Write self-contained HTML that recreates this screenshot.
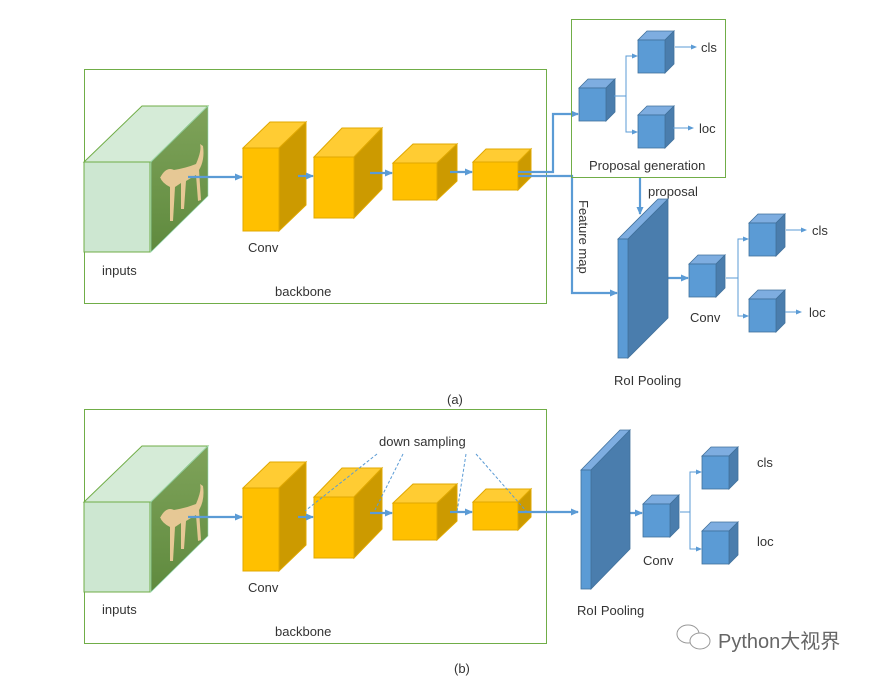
<!DOCTYPE html>
<html><head><meta charset="utf-8"><style>
html,body{margin:0;padding:0;background:#fff;}
svg{display:block;}
text{font-family:"Liberation Sans","Noto Sans CJK SC",sans-serif;fill:#333;font-size:13px;}
</style></head><body>
<svg width="886" height="679" viewBox="0 0 886 679" xmlns="http://www.w3.org/2000/svg">
<defs>
<marker id="ah" markerWidth="8" markerHeight="8" refX="7" refY="4" orient="auto" markerUnits="userSpaceOnUse"><path d="M0,0.5 L8,4 L0,7.5 z" fill="#5B9BD5"/></marker>
<marker id="as" markerWidth="6" markerHeight="6" refX="5" refY="3" orient="auto" markerUnits="userSpaceOnUse"><path d="M0,0.5 L6,3 L0,5.5 z" fill="#5B9BD5"/></marker>
<linearGradient id="dog" x1="0" y1="0" x2="0" y2="1"><stop offset="0" stop-color="#7fa35a"/><stop offset="1" stop-color="#5f8a3e"/></linearGradient>
<g id="bb">
  <!-- input cube -->
  <polygon points="84,162 142,106 208,106 151,162" fill="#D5EBD7" stroke="#70AD47" stroke-width="1"/>
  <rect x="84" y="162" width="66" height="90" fill="#CDE7D1" stroke="#70AD47" stroke-width="1"/>
  <polygon points="151,162 208,106 208,196 151,252" fill="url(#dog)" stroke="#9db" stroke-width="0.6"/>
  <path d="M160,178 q6,-12 14,-8 q12,-2 22,-6 q6,-14 4,-20 l3,2 q2,14 -4,24 l2,30 l-3,1 l-2,-26 l-10,6 l-2,28 l-3,0 l0,-26 l-6,4 l-2,34 l-3,0 l0,-34 q-8,-4 -10,-10 z" fill="#E6C895"/>
  <!-- conv1 -->
  <polygon points="243,148 270,122 306,122 279,148" fill="#FFCC33" stroke="#E0A800" stroke-width="1"/>
  <polygon points="279,148 306,122 306,205 279,231" fill="#CC9A00" stroke="#E0A800" stroke-width="1"/>
  <rect x="243" y="148" width="36" height="83" fill="#FFC000" stroke="#E0A800" stroke-width="1"/>
  <!-- conv2 -->
  <polygon points="314,157 342,128 382,128 354,157" fill="#FFCC33" stroke="#E0A800" stroke-width="1"/>
  <polygon points="354,157 382,128 382,189 354,218" fill="#CC9A00" stroke="#E0A800" stroke-width="1"/>
  <rect x="314" y="157" width="40" height="61" fill="#FFC000" stroke="#E0A800" stroke-width="1"/>
  <!-- conv3 -->
  <polygon points="393,163 413,144 457,144 437,163" fill="#FFCC33" stroke="#E0A800" stroke-width="1"/>
  <polygon points="437,163 457,144 457,181 437,200" fill="#CC9A00" stroke="#E0A800" stroke-width="1"/>
  <rect x="393" y="163" width="44" height="37" fill="#FFC000" stroke="#E0A800" stroke-width="1"/>
  <!-- conv4 -->
  <polygon points="473,162 486,149 531,149 518,162" fill="#FFCC33" stroke="#E0A800" stroke-width="1"/>
  <polygon points="518,162 531,149 531,177 518,190" fill="#CC9A00" stroke="#E0A800" stroke-width="1"/>
  <rect x="473" y="162" width="45" height="28" fill="#FFC000" stroke="#E0A800" stroke-width="1"/>
</g>
<g id="bc">
  <polygon points="0,0 9,-9 36,-9 27,0" fill="#7EADE0" stroke="#41719C" stroke-width="0.8"/>
  <polygon points="27,0 36,-9 36,24 27,33" fill="#4A7DAD" stroke="#41719C" stroke-width="0.8"/>
  <rect x="0" y="0" width="27" height="33" fill="#5B9BD5" stroke="#41719C" stroke-width="0.8"/>
</g>
</defs>

<!-- ============ (a) ============ -->
<rect x="84.5" y="69.5" width="462" height="234" fill="none" stroke="#70AD47" stroke-width="1"/>
<use href="#bb"/>
<g stroke="#5B9BD5" stroke-width="2.2" fill="none">
<line x1="188" y1="177" x2="242" y2="177" marker-end="url(#ah)"/>
<line x1="298" y1="176" x2="313" y2="176" marker-end="url(#ah)"/>
<line x1="370" y1="173" x2="392" y2="173" marker-end="url(#ah)"/>
<line x1="450" y1="172" x2="472" y2="172" marker-end="url(#ah)"/>
<polyline points="518,172 553,172 553,114 578,114" marker-end="url(#ah)"/>
<polyline points="518,176 572,176 572,293 617,293" marker-end="url(#ah)"/>
<line x1="640" y1="178" x2="640" y2="214" marker-end="url(#ah)"/>
<line x1="668" y1="278" x2="688" y2="278" marker-end="url(#ah)"/>
</g>
<text x="102" y="275">inputs</text>
<text x="248" y="252">Conv</text>
<text x="275" y="296">backbone</text>

<rect x="571.5" y="19.5" width="154" height="158" fill="none" stroke="#70AD47" stroke-width="1"/>
<use href="#bc" transform="translate(579,88)"/>
<use href="#bc" transform="translate(638,40)"/>
<use href="#bc" transform="translate(638,115)"/>
<g stroke="#5B9BD5" stroke-width="1" fill="none">
<polyline points="614,96 626,96 626,56 637,56" marker-end="url(#as)"/>
<polyline points="626,96 626,132 637,132" marker-end="url(#as)"/>
<line x1="675" y1="47" x2="696" y2="47" marker-end="url(#as)"/>
<line x1="673" y1="128" x2="693" y2="128" marker-end="url(#as)"/>
</g>
<text x="701" y="52">cls</text>
<text x="699" y="133">loc</text>
<text x="589" y="170">Proposal generation</text>
<text x="648" y="196">proposal</text>
<text transform="translate(579,200) rotate(90)">Feature map</text>

<!-- RoI slab a -->
<polygon points="618,239 658,199 668,199 628,239" fill="#7EADE0" stroke="#41719C" stroke-width="0.8"/>
<polygon points="628,239 668,199 668,318 628,358" fill="#4A7DAD" stroke="#41719C" stroke-width="0.8"/>
<rect x="618" y="239" width="10" height="119" fill="#5B9BD5" stroke="#41719C" stroke-width="0.8"/>
<use href="#bc" transform="translate(689,264)"/>
<use href="#bc" transform="translate(749,223)"/>
<use href="#bc" transform="translate(749,299)"/>
<g stroke="#5B9BD5" stroke-width="1" fill="none">
<polyline points="726,278 738,278 738,239 748,239" marker-end="url(#as)"/>
<polyline points="738,278 738,316 748,316" marker-end="url(#as)"/>
<line x1="786" y1="230" x2="806" y2="230" marker-end="url(#as)"/>
<line x1="785" y1="312" x2="801" y2="312" marker-end="url(#as)"/>
</g>
<text x="812" y="235">cls</text>
<text x="809" y="317">loc</text>
<text x="690" y="322">Conv</text>
<text x="614" y="385">RoI Pooling</text>
<text x="447" y="404">(a)</text>

<!-- ============ (b) ============ -->
<rect x="84.5" y="409.5" width="462" height="234" fill="none" stroke="#70AD47" stroke-width="1"/>
<use href="#bb" transform="translate(0,340)"/>
<g stroke="#5B9BD5" stroke-width="2.2" fill="none">
<line x1="188" y1="517" x2="242" y2="517" marker-end="url(#ah)"/>
<line x1="298" y1="517" x2="313" y2="517" marker-end="url(#ah)"/>
<line x1="370" y1="513" x2="392" y2="513" marker-end="url(#ah)"/>
<line x1="450" y1="512" x2="472" y2="512" marker-end="url(#ah)"/>
<line x1="518" y1="512" x2="578" y2="512" marker-end="url(#ah)"/>
<line x1="619" y1="513" x2="642" y2="513" marker-end="url(#ah)"/>
</g>
<g stroke="#5B9BD5" stroke-width="1" stroke-dasharray="3,2" fill="none">
<line x1="377" y1="454" x2="305" y2="511"/>
<line x1="403" y1="454" x2="375" y2="510"/>
<line x1="466" y1="454" x2="457" y2="512"/>
<line x1="476" y1="454" x2="527" y2="512"/>
</g>
<text x="379" y="446">down sampling</text>
<text x="102" y="614">inputs</text>
<text x="248" y="592">Conv</text>
<text x="275" y="636">backbone</text>

<polygon points="581,470 620,430 630,430 591,470" fill="#7EADE0" stroke="#41719C" stroke-width="0.8"/>
<polygon points="591,470 630,430 630,549 591,589" fill="#4A7DAD" stroke="#41719C" stroke-width="0.8"/>
<rect x="581" y="470" width="10" height="119" fill="#5B9BD5" stroke="#41719C" stroke-width="0.8"/>
<use href="#bc" transform="translate(643,504)"/>
<use href="#bc" transform="translate(702,456)"/>
<use href="#bc" transform="translate(702,531)"/>
<g stroke="#5B9BD5" stroke-width="1" fill="none">
<polyline points="680,512 690,512 690,472 701,472" marker-end="url(#as)"/>
<polyline points="690,512 690,549 701,549" marker-end="url(#as)"/>
</g>
<text x="757" y="467">cls</text>
<text x="757" y="546">loc</text>
<text x="643" y="565">Conv</text>
<text x="577" y="615">RoI Pooling</text>
<text x="454" y="673">(b)</text>

<!-- watermark -->
<g stroke="#999" stroke-width="1" fill="#fff">
<ellipse cx="688" cy="634" rx="11" ry="9"/>
<ellipse cx="700" cy="641" rx="10" ry="8"/>
</g>
<text x="718" y="648" style="font-size:20px;fill:#666;">Python大视界</text>
</svg>
</body></html>
